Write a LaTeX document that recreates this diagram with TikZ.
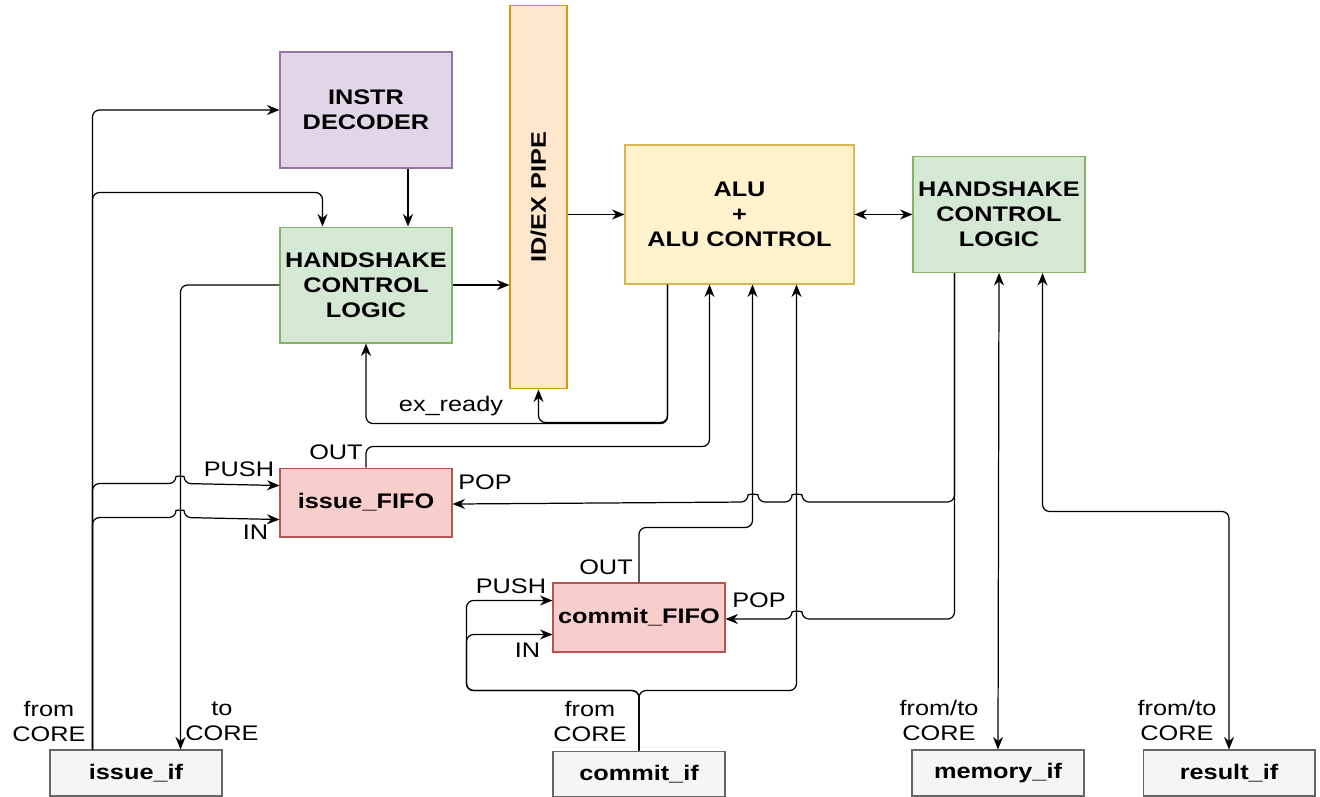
\documentclass[tikz,border=0pt]{standalone}
\usepackage{fontspec}
\setmainfont{Liberation Sans}[FakeStretch=1.2]
\usepackage{xcolor}
\usetikzlibrary{arrows.meta,positioning,calc}

\definecolor{decfill}{HTML}{E1D5E7}
\definecolor{decline}{HTML}{9673A6}
\definecolor{hsfill}{HTML}{D5E8D4}
\definecolor{hsline}{HTML}{82B366}
\definecolor{pipefill}{HTML}{FFE6CC}
\definecolor{pipeline}{HTML}{D79B00}
\definecolor{alufill}{HTML}{FFF2CC}
\definecolor{aluline}{HTML}{D6B656}
\definecolor{fifofill}{HTML}{F8CECC}
\definecolor{fifoline}{HTML}{B85450}
\definecolor{iffill}{HTML}{F5F5F5}
\definecolor{ifline}{HTML}{666666}

\begin{document}
\begin{tikzpicture}[
  x=0.02cm, y=-0.02cm,
  >={Stealth[length=2.5mm,width=2mm,inset=0.8mm]},
  every node/.style={font=\fontsize{12pt}{14.2pt}\selectfont},
  box/.style={draw, rectangle, line width=0.6pt, inner sep=0pt, align=center,
              font=\fontsize{12pt}{14.2pt}\selectfont\bfseries},
  decbox/.style={box, fill=decfill, draw=decline, minimum width=3.44cm, minimum height=2.32cm},
  hsbox/.style={box, fill=hsfill, draw=hsline, minimum width=3.44cm, minimum height=2.32cm},
  pipebox/.style={box, fill=pipefill, draw=pipeline, minimum width=1.14cm, minimum height=7.68cm},
  alubox/.style={box, fill=alufill, draw=aluline, minimum width=4.58cm, minimum height=2.78cm},
  fifobox/.style={box, fill=fifofill, draw=fifoline, minimum width=3.44cm, minimum height=1.38cm},
  ifbox/.style={box, fill=iffill, draw=ifline, minimum width=3.44cm, minimum height=0.92cm},
  wire/.style={line width=0.7pt, rounded corners=4pt}
]
\useasboundingbox (0,0) rectangle (1320,797);

\node (decoder)  [decbox] at (366,110)            {INSTR\\DECODER};
\node (hs1)      [hsbox, below=1.16cm of decoder] {HANDSHAKE\\CONTROL\\LOGIC};
\node (ififo)    [fifobox, below=2.48cm of hs1]   {issue\_FIFO};
\node (pipe)     [pipebox] at (538.5,197)         {\rotatebox{90}{ID/EX PIPE}};
\node (alu)      [alubox] at (739.5,214.5)        {ALU\\+\\ALU CONTROL};
\node (hs2)      [hsbox, right=1.16cm of alu]     {HANDSHAKE\\CONTROL\\LOGIC};
\node (cfifo)    [fifobox] at (639,617.5)         {commit\_FIFO};

\node (issueif)  [ifbox] at (136,773)             {issue\_if};
\node (commitif) [ifbox, below=1.96cm of cfifo]   {commit\_if};
\node (memif)    [ifbox] at (998,773)             {memory\_if};
\node (resif)    [ifbox, right=1.16cm of memif]   {result\_if};

% port labels
\node (pushA) at (239,469)   {PUSH};
\node (inA)   at (255.5,532) {IN};
\node (outA)  at (336,452)   {OUT};
\node (popA)  at (485,482)   {POP};
\node (outB)  at (606,567)   {OUT};
\node (pushB) at (511,586)   {PUSH};
\node (inB)   at (527.5,650) {IN};
\node (popB)  at (759,600)   {POP};
\node (exrdy) at (451,406)   {ex\_ready};
\node (fromA) [align=center] at (49,721)   {from\\CORE};
\node (toA)   [align=center] at (222,721)  {to\\CORE};
\node (fromB) [align=center] at (590,721)  {from\\CORE};
\node (fromC) [align=center] at (939,720)  {from/to\\CORE};
\node (fromD) [align=center] at (1177,720) {from/to\\CORE};

% issue_if from CORE
\coordinate (ifrom) at ($(issueif.north west)+(43,0)$);
\draw[wire,->] (ifrom) |- (decoder.west);
\draw[wire,->] (ifrom) |- ($(hs1.north west)+(43,-34)$) -- ($(hs1.north west)+(43,0)$);
\draw[wire,->] (ifrom) |- (176,483.5) .. controls (176,476) and (184,476) .. (184,483.5)
               -- ($(ififo.west)+(0,-17)$);
\draw[wire,->] (ifrom) |- (176,517.5) .. controls (176,510) and (184,510) .. (184,517.5)
               -- ($(ififo.west)+(0,17)$);

\draw[wire,->] ($(decoder.south)+(42,0)$) -- ($(hs1.north)+(42,0)$);
\draw[wire,->] (hs1.west) -| ($(issueif.north east)+(-42,0)$);
\draw[wire,->] (hs1.east) -- (hs1.east -| pipe.west);
\draw[wire,->] (alu.west -| pipe.east) -- (alu.west);
\draw[wire,<->] (alu.east) -- (hs2.west);

% ex_ready
\draw[wire,->] ($(alu.south west)+(43,0)$) |- ($(pipe.south)+(0,33)$) -- (pipe.south);
\draw[wire,->] ($(alu.south west)+(43,0)$) |- ($(hs1.south)+(0,80)$) -- (hs1.south);

% FIFO outputs
\draw[wire,->] (ififo.north) -- ++(0,-21) -| ($(alu.south west)+(85,0)$);
\draw[wire,->] (cfifo.north) -- ++(0,-55) -| ($(alu.south west)+(128,0)$);

% commit_if from CORE
\draw[wire,->] (commitif.north) |- ($(cfifo.south west)+(-86,38)$) |- ($(cfifo.west)+(0,-17)$);
\draw[wire,->] (commitif.north) |- ($(cfifo.south west)+(-86,38)$) |- ($(cfifo.west)+(0,17)$);
\draw[wire,->] (commitif.north) |- ($(alu.south west)+(172,406)$) -- ($(alu.south west)+(172,0)$);

% POP
\draw[wire,->] ($(hs2.south west)+(42,0)$) |- (802,502)
               .. controls (802,494) and (792,494) .. (792,502) -- (758,502)
               .. controls (758,494) and (748,494) .. (748,502) -- ($(ififo.east)+(0,1.5)$);
\draw[wire,->] ($(hs2.south west)+(42,0)$) |- (802,619)
               .. controls (802,611) and (792,611) .. (792,619) -- ($(cfifo.east)+(0,1.5)$);

% memory_if and result_if
\draw[wire,<->] (hs2.south) -- (memif.north);
\draw[wire,<->] ($(hs2.south east)+(-43,0)$) |- ($(resif.north)+(0,-238)$) -- (resif.north);
\end{tikzpicture}
\end{document}
